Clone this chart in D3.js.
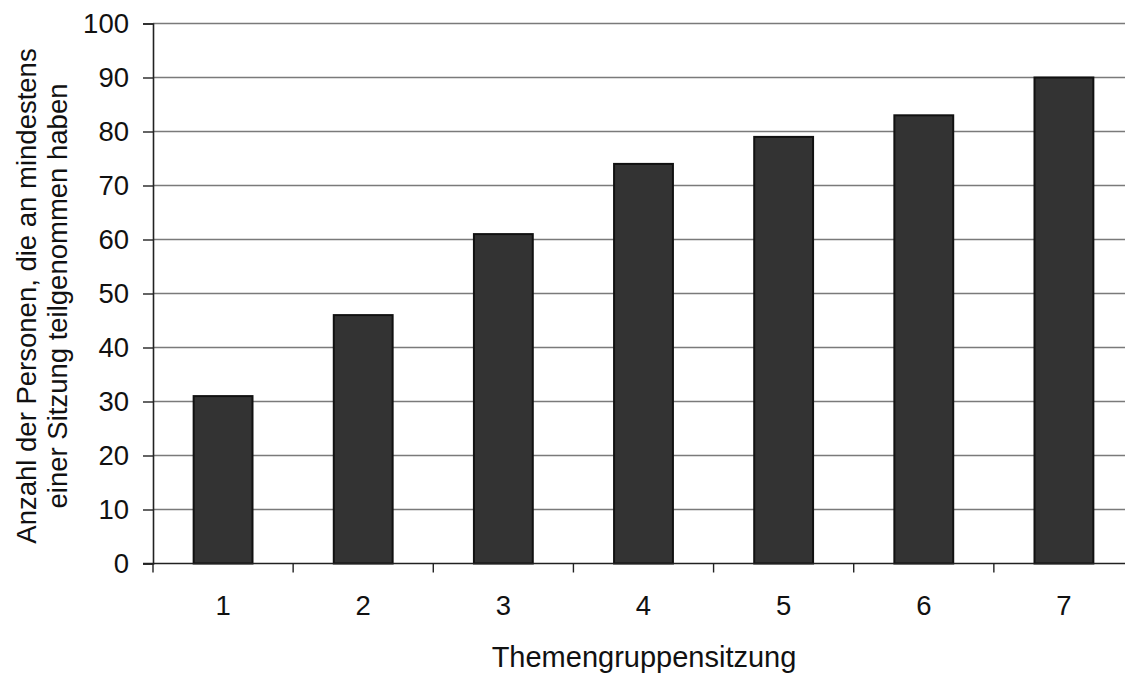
<!DOCTYPE html>
<html><head><meta charset="utf-8">
<script src="https://cdn.jsdelivr.net/npm/d3@7"></script>
<style>html,body{margin:0;padding:0;background:#fff;overflow:hidden}</style>
</head><body>
<svg id="c" width="1125" height="677"></svg>
<script>
const categories = ["1","2","3","4","5","6","7"];
const values = [31, 46, 61, 74, 79, 83, 90];
const yTicks = [0,10,20,30,40,50,60,70,80,90,100];
const xTitle = "Themengruppensitzung";
const yTitleLines = ["Anzahl der Personen, die an mindestens", "einer Sitzung teilgenommen haben"];

(function () {
const svg = d3.select("#c");
const mLeft = 153, mRight = 1134, mTop = 23.5, mBottom = 563.5;
const font = "'Liberation Sans', Arial, sans-serif";

const x = d3.scaleBand().domain(categories).range([mLeft, mRight]).padding(0);
const y = d3.scaleLinear().domain([0, 100]).range([mBottom, mTop]);

// gridlines
svg.append("g").selectAll("line").data(yTicks.filter(d => d > 0)).join("line")
  .attr("x1", mLeft).attr("x2", 1125)
  .attr("y1", d => y(d)).attr("y2", d => y(d))
  .attr("stroke", "#7a7a7a").attr("stroke-width", 1.6);

// bars
const bw = x.bandwidth() * 0.42;
svg.append("g").selectAll("rect").data(values).join("rect")
  .attr("x", (d, i) => x(categories[i]) + x.bandwidth() / 2 - bw / 2)
  .attr("y", d => y(d))
  .attr("width", bw)
  .attr("height", d => y(0) - y(d))
  .attr("fill", "#333333").attr("stroke", "#111").attr("stroke-width", 2);

// y axis
const yAxis = d3.axisLeft(y).tickValues(yTicks).tickSize(10).tickPadding(14);
const gy = svg.append("g").attr("transform", `translate(${mLeft},0)`).call(yAxis);
gy.select(".domain").attr("stroke", "#222").attr("stroke-width", 1.6);
gy.selectAll(".tick line").attr("stroke", "#222").attr("stroke-width", 1.4);
gy.selectAll(".tick text").attr("font-family", font).attr("font-size", 27.5).attr("fill", "#111");

// x axis
const xAxis = d3.axisBottom(x).tickSize(0).tickPadding(32);
const gx = svg.append("g").attr("transform", `translate(0,${mBottom})`).call(xAxis);
gx.select(".domain").remove();
gx.append("line").attr("x1", mLeft - 10).attr("x2", 1125).attr("y1", 0).attr("y2", 0)
  .attr("stroke", "#222").attr("stroke-width", 1.6);
gx.selectAll(".tick text").attr("font-family", font).attr("font-size", 27.5).attr("fill", "#111");
// category boundary ticks
gx.append("g").selectAll("line").data(categories).join("line")
  .attr("x1", d => x(d)).attr("x2", d => x(d))
  .attr("y1", 0).attr("y2", 9)
  .attr("stroke", "#222").attr("stroke-width", 1.4);

// x title
svg.append("text").attr("x", 644).attr("y", 667).attr("text-anchor", "middle")
  .attr("font-family", font).attr("font-size", 29).attr("fill", "#111").text(xTitle);

// y title
const yt = svg.append("text").attr("transform", "translate(36,296) rotate(-90)")
  .attr("text-anchor", "middle").attr("font-family", font).attr("font-size", 27.5).attr("fill", "#111");
yTitleLines.forEach((t, i) => {
  yt.append("tspan").attr("x", 0).attr("dy", i === 0 ? 0 : 31).text(t);
});
})();
</script>
</body></html>
